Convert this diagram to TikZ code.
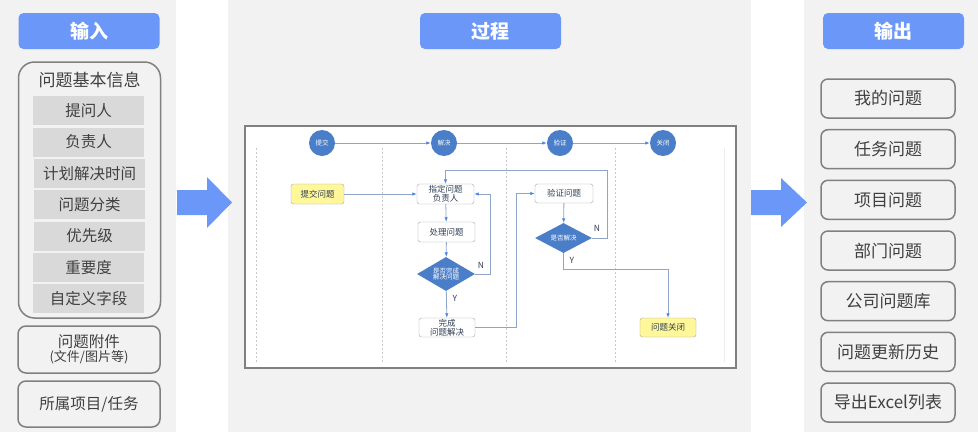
\documentclass[tikz,border=0pt]{standalone}
\usepackage{fontspec}
\setmainfont{Noto Sans CJK SC}
\usetikzlibrary{shapes.geometric,arrows.meta}
\definecolor{panel}{HTML}{F2F2F2}
\definecolor{hblue}{HTML}{6A97F8}
\definecolor{itemgray}{HTML}{D9D9D9}
\definecolor{bord}{HTML}{808080}
\definecolor{txt}{HTML}{404040}
\definecolor{cblue}{HTML}{4A7EC9}
\definecolor{lnk}{HTML}{8EA5C8}
\definecolor{tipblue}{HTML}{4A86E8}
\definecolor{ybox}{HTML}{FFF799}
\definecolor{flowtxt}{HTML}{2F3F55}
\definecolor{lane}{HTML}{C8C8C8}
\newcommand{\fsz}[1]{\fontsize{#1}{#1}\selectfont}
\begin{document}
\begin{tikzpicture}[x=1pt,y=-1pt,
  header/.style={fill=hblue, rounded corners=5pt, text=white, font=\bfseries\fsz{19},
    minimum width=141pt, minimum height=36pt, inner sep=0pt},
  outbox/.style={draw=bord, line width=1.5pt, rounded corners=7pt, text=txt, font=\fsz{17},
    minimum width=134pt, minimum height=39pt, inner sep=0pt},
  inbox/.style={draw=bord, line width=1.5pt, rounded corners=8pt, text=txt, font=\fsz{15.5},
    minimum width=142pt, inner sep=0pt, align=center},
  item/.style={fill=itemgray, text=txt, font=\fsz{15.5}, minimum width=111pt,
    minimum height=29pt, inner sep=0pt},
  bigarrow/.style={fill=hblue},
  circ/.style={circle, fill=cblue, text=white, font=\fsz{6.5}, minimum size=26pt, inner sep=0pt},
  proc/.style={draw=gray!70, rounded corners=2.5pt, fill=white, text=flowtxt, font=\fsz{8.5},
    inner sep=0pt, align=center},
  yproc/.style={proc, fill=ybox},
  dec/.style={diamond, fill=cblue, text=white, font=\fsz{6.5}, inner sep=0pt, align=center,
    shape aspect=1.7},
  link/.style={draw=lnk, line width=0.8pt, -{Latex[length=4.5pt,width=3.5pt,color=tipblue]}},
  lbl/.style={text=flowtxt, font=\fsz{8.5}, inner sep=0pt},
  lanes/.style={draw=lane, line width=0.6pt, dash pattern=on 2pt off 2pt}
]
\useasboundingbox (0,0) rectangle (978,432);
% panels
\fill[panel] (0,0) rectangle (176,432);
\fill[panel] (228,0) rectangle (751,432);
\fill[panel] (804,0) rectangle (978,432);

% headers
\node[header] (hin) at (89,31) {输入};
\node[header] (hproc) at (490.5,31) {过程};
\node[header] (hout) at (893.5,31) {输出};

% input column
\node[inbox, minimum height=256pt, rounded corners=16pt] (basic) at (89.5,190) {};
\node[text=txt, font=\fsz{17}, inner sep=0pt] (basict) at (89.5,80) {问题基本信息};
\node[item] (i1) at (88.5,110.5) {提问人};
\node[item] (i2) at (88.5,142) {负责人};
\node[item] (i3) at (89.5,173.3) {计划解决时间};
\node[item] (i4) at (89.5,204.7) {问题分类};
\node[item] (i5) at (89.5,236.1) {优先级};
\node[item] (i6) at (88.5,267.5) {重要度};
\node[item] (i7) at (88.5,298.9) {自定义字段};
\node[inbox, minimum height=47pt] (att) at (89,349.5) {问题附件\\[-1pt]{\fsz{13}(文件/图片等)}};
\node[inbox, minimum height=46pt] (proj) at (89,404) {所属项目/任务};

% output column
\node[outbox] (o1) at (888,98.5) {我的问题};
\node[outbox] (o2) at (888,149.2) {任务问题};
\node[outbox] (o3) at (888,199.8) {项目问题};
\node[outbox] (o4) at (888,250.5) {部门问题};
\node[outbox] (o5) at (888,301.2) {公司问题库};
\node[outbox] (o6) at (888,351.8) {问题更新历史};
\node[outbox] (o7) at (888,402.5) {导出Excel列表};

% big arrows
\fill[bigarrow] (177,190) -- (207,190) -- (207,177) -- (232,202.5) -- (207,228) -- (207,215) -- (177,215) -- cycle;
\fill[bigarrow] (751,190) -- (781,190) -- (781,178) -- (807,202.5) -- (781,227) -- (781,215) -- (751,215) -- cycle;

% flowchart frame
\draw[bord, line width=2pt, fill=white] (245,126) rectangle (736,368);
\foreach \x in {256,382,506,615} \draw[lanes] (\x,148) -- (\x,362);
\draw[draw=gray!15, line width=1pt] (724,148) -- (724,362);

% stage circles
\node[circ] (c1) at (322,143) {提交};
\node[circ] (c2) at (444,143) {解决};
\node[circ] (c3) at (560,143) {验证};
\node[circ] (c4) at (663,143) {关闭};
\draw[link] (c1) -- (c2);
\draw[link] (c2) -- (c3);
\draw[link] (c3) -- (c4);

% flow nodes
\node[yproc, minimum width=53pt, minimum height=20pt] (tj) at (317.5,194) {提交问题};
\node[proc, minimum width=57pt, minimum height=20pt, font=\fontsize{8.5}{9}\selectfont] (zd) at (445.5,194) {指定问题\\负责人};
\node[proc, minimum width=57pt, minimum height=20pt] (cl) at (446.5,232) {处理问题};
\node[dec, minimum width=58pt, minimum height=34pt] (d1) at (446,274) {是否完成\\解决问题};
\node[proc, minimum width=56pt, minimum height=19pt, font=\fontsize{8.5}{9}\selectfont] (wc) at (447,327.5) {完成\\问题解决};
\node[proc, minimum width=58pt, minimum height=19pt] (yz) at (564,193.5) {验证问题};
\node[dec, minimum width=57pt, minimum height=30pt] (d2) at (563.5,238) {是否解决};
\node[yproc, minimum width=56pt, minimum height=19pt] (gb) at (668,327.5) {问题关闭};
\coordinate (nloop) at (607,170);

% flow connectors
\draw[link] (tj.east) -- (zd.west);
\draw[link] (zd) -- (cl);
\draw[link] (cl) -- (d1);
\draw[link] (d1) -- (wc);
\draw[link] (d1.east) -- ++(15,0) |- (zd.east);
\draw[link] (wc.east) -- ++(41,0) |- (yz.west);
\draw[link] (yz) -- (d2);
\draw[link] (d2.east) -| (nloop) -| (zd.north);
\draw[link] (d2.south) -- ++(0,16) -| (gb.north);

% labels
\node[lbl] (ly1) at (455,298) {Y};
\node[lbl] (ln1) at (481,265) {N};
\node[lbl] (ly2) at (572,260) {Y};
\node[lbl] (ln2) at (597,228) {N};
\end{tikzpicture}
\end{document}
